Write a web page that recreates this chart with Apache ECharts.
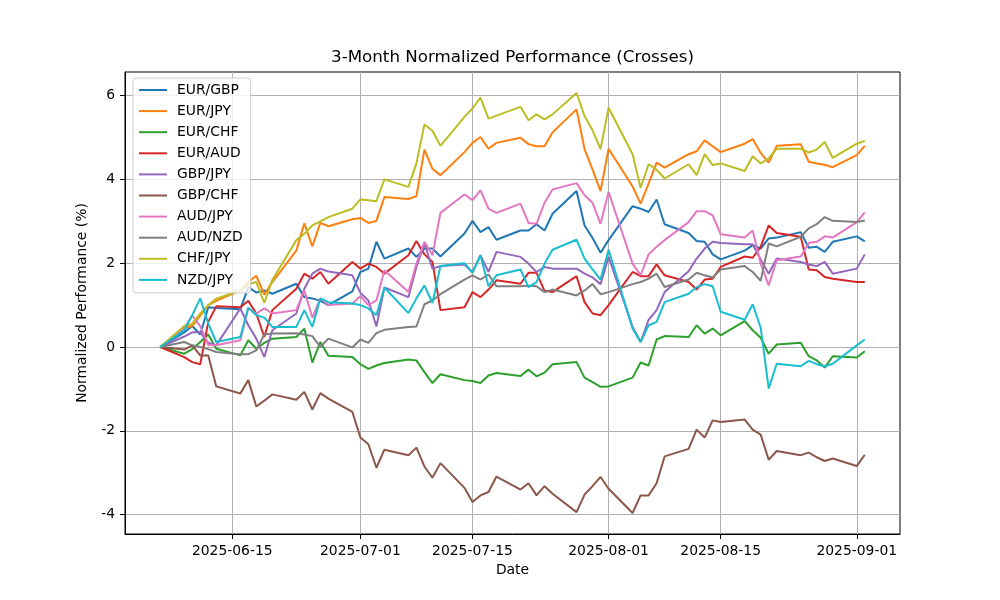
<!DOCTYPE html>
<html><head><meta charset="utf-8">
<script src="https://cdn.jsdelivr.net/npm/echarts@6/dist/echarts.min.js"></script>
<style>html,body{margin:0;padding:0;background:#fff}#c{width:1000px;height:600px}</style>
</head><body><div id="c"></div>
<script>
const dates = ['2025-06-06',
'2025-06-09','2025-06-10','2025-06-11','2025-06-12','2025-06-13',
'2025-06-16','2025-06-17','2025-06-18','2025-06-19','2025-06-20',
'2025-06-23','2025-06-24','2025-06-25','2025-06-26','2025-06-27',
'2025-06-30','2025-07-01','2025-07-02','2025-07-03','2025-07-04',
'2025-07-07','2025-07-08','2025-07-09','2025-07-10','2025-07-11',
'2025-07-14','2025-07-15','2025-07-16','2025-07-17','2025-07-18',
'2025-07-21','2025-07-22','2025-07-23','2025-07-24','2025-07-25',
'2025-07-28','2025-07-29','2025-07-30','2025-07-31','2025-08-01',
'2025-08-04','2025-08-05','2025-08-06','2025-08-07','2025-08-08',
'2025-08-11','2025-08-12','2025-08-13','2025-08-14','2025-08-15',
'2025-08-18','2025-08-19','2025-08-20','2025-08-21','2025-08-22',
'2025-08-25','2025-08-26','2025-08-27','2025-08-28','2025-08-29',
'2025-09-01','2025-09-02'];

const eurGbp = [0, 0.35,0.5,0.3,0.95,0.93, 0.9,1.43,1.3,1.35,1.27, 1.51,1.19,1.16,1.1,1.0, 1.33,1.79,1.87,2.51,2.11, 2.35,2.15,2.35,2.35,2.16, 2.71,3.01,2.74,2.86,2.56, 2.78,2.78,2.93,2.78,3.18, 3.72,2.9,2.6,2.25,2.55, 3.36,3.3,3.22,3.52,2.93, 2.72,2.53,2.51,2.21,2.09, 2.3,2.43,2.35,2.59,2.61, 2.74,2.37,2.39,2.27,2.51, 2.64,2.52];
const eurJpy = [0, 0.45,0.5,0.75,1.0,1.1, 1.35,1.55,1.7,1.25,1.55, 2.3,2.95,2.4,2.96,2.88, 3.05,3.08,2.96,3.01,3.58, 3.53,3.6,4.71,4.25,4.1, 4.65,4.87,5.01,4.73,4.87, 4.99,4.84,4.79,4.79,5.12, 5.67,4.72,4.23,3.72,4.73, 3.83,3.42,3.9,4.4,4.28, 4.6,4.67,4.93,4.79,4.65, 4.85,4.96,4.63,4.4,4.8, 4.84,4.42,4.38,4.35,4.29, 4.58,4.8];
const eurChf = [0, -0.16,-0.05,0.12,0.3,-0.04, -0.2,0.16,-0.04,0.1,0.2, 0.24,0.44,-0.37,0.12,-0.21, -0.24,-0.41,-0.52,-0.44,-0.38, -0.3,-0.32,-0.6,-0.86,-0.65, -0.79,-0.81,-0.86,-0.68,-0.62, -0.69,-0.54,-0.7,-0.61,-0.41, -0.36,-0.73,-0.84,-0.95,-0.94, -0.73,-0.37,-0.44,0.18,0.26, 0.24,0.52,0.32,0.44,0.28, 0.62,0.4,0.22,-0.16,0.06, 0.1,-0.22,-0.32,-0.49,-0.22, -0.25,-0.1];
const eurAud = [0, -0.24,-0.36,-0.41,0.6,0.97, 0.95,1.1,0.8,0.24,0.88, 1.39,1.75,1.63,1.79,1.51, 2.03,1.87,1.99,1.91,1.75, 2.19,2.53,2.21,2.03,0.88, 0.95,1.31,1.19,1.37,1.59, 1.51,1.77,1.77,1.34,1.31, 1.69,1.07,0.8,0.76,1.0, 1.79,1.69,1.69,1.97,1.71, 1.55,1.37,1.61,1.63,1.91, 2.16,2.13,2.39,2.9,2.72, 2.63,1.85,1.83,1.67,1.63, 1.55,1.55];
const gbpJpy = [0, 0.25,0.35,0.35,0.1,0.04, 0.92,0.52,0.2,-0.24,0.4, 0.8,1.39,1.75,1.87,1.8, 1.71,1.29,1.11,0.49,1.42, 1.19,1.91,2.47,1.87,1.93, 1.97,1.79,2.19,1.79,2.27, 2.15,1.99,1.79,1.91,1.87, 1.87,1.75,1.66,1.5,2.15, 0.48,0.12,0.65,0.88,1.31, 1.81,2.11,2.35,2.51,2.48, 2.45,2.45,2.09,1.75,2.11, 2.03,1.97,1.93,2.03,1.75, 1.87,2.21];
const gbpChf = [0, -0.06,0.04,-0.2,-0.2,-0.94, -1.11,-0.79,-1.42,-1.28,-1.13, -1.26,-1.07,-1.49,-1.1,-1.23, -1.55,-2.16,-2.32,-2.88,-2.45, -2.58,-2.4,-2.85,-3.12,-2.77, -3.36,-3.7,-3.54,-3.46,-3.09, -3.4,-3.25,-3.54,-3.32,-3.5, -3.94,-3.52,-3.32,-3.1,-3.38, -3.96,-3.54,-3.54,-3.25,-2.61, -2.43,-1.97,-2.16,-1.75,-1.79, -1.73,-1.97,-2.09,-2.69,-2.48, -2.58,-2.52,-2.63,-2.72,-2.66, -2.84,-2.57];
const audJpy = [0, 0.45,0.75,0.5,0.05,0.04, 0.16,0.92,0.8,0.92,0.8, 0.88,1.35,0.7,1.16,1.0, 1.04,1.21,1.0,1.11,1.83, 1.31,1.99,2.51,2.19,3.2, 3.64,3.5,3.74,3.3,3.2, 3.42,2.96,2.94,3.44,3.76, 3.91,3.62,3.44,2.94,3.7, 1.99,1.71,2.21,2.39,2.55, 2.98,3.24,3.24,3.14,2.69, 2.61,2.78,1.99,1.47,2.07, 2.16,2.48,2.51,2.64,2.61, 2.98,3.21];
const audNzd = [0, 0.12,0.04,0.0,-0.05,-0.12, -0.17,-0.17,-0.08,0.3,0.32, 0.33,0.3,0.26,0.0,0.2, -0.01,0.18,0.1,0.33,0.41, 0.48,0.49,1.02,1.11,1.26, 1.61,1.71,1.61,1.73,1.45, 1.45,1.46,1.45,1.31,1.37, 1.23,1.35,1.5,1.26,1.31, 1.5,1.55,1.63,1.75,1.43, 1.61,1.77,1.71,1.66,1.85, 1.93,1.79,1.58,2.47,2.4, 2.63,2.83,2.93,3.1,3.01, 2.98,3.02];
const chfJpy = [0, 0.5,0.55,0.8,1.0,1.15, 1.35,1.5,1.55,1.05,1.6, 2.55,2.7,2.9,3.0,3.1, 3.3,3.52,3.5,3.48,4.0, 3.82,4.38,5.31,5.16,4.8, 5.49,5.69,5.95,5.45,5.52, 5.73,5.41,5.55,5.43,5.55, 6.06,5.51,5.17,4.72,5.71, 4.6,3.8,4.36,4.23,4.02, 4.36,4.1,4.6,4.34,4.38, 4.2,4.55,4.38,4.5,4.73, 4.73,4.64,4.71,4.89,4.51, 4.85,4.92];
const nzdJpy = [0, 0.4,0.76,1.16,0.56,0.12, 0.24,0.94,0.76,0.7,0.48, 0.48,0.88,0.48,1.16,1.07, 1.04,1.0,0.92,0.76,1.42, 0.81,1.16,1.47,1.05,1.93, 2.0,1.77,2.19,1.45,1.71, 1.85,1.43,1.55,1.99,2.32, 2.56,2.11,1.85,1.61,2.32, 0.44,0.12,0.52,0.6,1.07, 1.27,1.43,1.5,1.45,0.84, 0.65,1.02,0.46,-0.99,-0.4, -0.46,-0.33,-0.41,-0.46,-0.4, 0.04,0.18];

const seriesNames = ['EUR/GBP','EUR/JPY','EUR/CHF','EUR/AUD','GBP/JPY','GBP/CHF','AUD/JPY','AUD/NZD','CHF/JPY','NZD/JPY'];
const seriesValues = [eurGbp, eurJpy, eurChf, eurAud, gbpJpy, gbpChf, audJpy, audNzd, chfJpy, nzdJpy];
const colors = ['#1f77b4','#ff7f0e','#2ca02c','#d62728','#9467bd','#8c564b','#e377c2','#7f7f7f','#bcbd22','#17becf'];
const xTickLabels = ['2025-06-15','2025-07-01','2025-07-15','2025-08-01','2025-08-15','2025-09-01'];
const yTickLabels = [-4, -2, 0, 2, 4, 6];

const ts = s => new Date(s + 'T00:00:00').getTime();
const t0 = ts(dates[0]), t1 = ts(dates[dates.length - 1]);
const xPad = (t1 - t0) * 0.05;
let vmin = Infinity, vmax = -Infinity;
seriesValues.forEach(a => a.forEach(v => { vmin = Math.min(vmin, v); vmax = Math.max(vmax, v); }));
const yPad = (vmax - vmin) * 0.05;
const xTicks = xTickLabels.map(ts);
const pad2 = n => (n < 10 ? '0' : '') + n;
const fmtDate = v => { const d = new Date(v); return d.getFullYear() + '-' + pad2(d.getMonth() + 1) + '-' + pad2(d.getDate()); };

const FONT = 'DejaVu Sans';
const chart = echarts.init(document.getElementById('c'), null, {renderer: 'canvas'});
chart.setOption({
  animation: false,
  backgroundColor: '#ffffff',
  color: colors,
  textStyle: {fontFamily: FONT},
  grid: {left: 125, right: 100, top: 72, bottom: 66, show: true, borderColor: '#000', borderWidth: 1, backgroundColor: 'transparent'},
  graphic: [{
    type: 'text', x: 512.5, y: 58, silent: true,
    style: {text: '3-Month Normalized Performance (Crosses)', font: '16.7px "DejaVu Sans"', fill: '#000', align: 'center', verticalAlign: 'middle'}
  }],
  legend: {
    orient: 'vertical', left: 133, top: 78,
    padding: [4, 8, 5, 6], itemGap: 5.1, itemWidth: 28, itemHeight: 2, icon: 'rect',
    backgroundColor: 'rgba(255,255,255,0.8)', borderColor: '#cccccc', borderWidth: 1, borderRadius: 3,
    textStyle: {fontFamily: FONT, fontSize: 13.9, color: '#000', lineHeight: 16, padding: [0, 0, 0, 5]},
    data: seriesNames
  },
  xAxis: {
    type: 'value', min: t0 - xPad, max: t1 + xPad,
    name: 'Date', nameLocation: 'middle', nameGap: 29,
    nameTextStyle: {fontFamily: FONT, fontSize: 13.9, color: '#000'},
    axisLine: {show: true, onZero: false, lineStyle: {color: '#000', width: 1}},
    axisTick: {show: true, length: 5, customValues: xTicks, lineStyle: {color: '#000', width: 1}},
    axisLabel: {customValues: xTicks, formatter: fmtDate, fontFamily: FONT, fontSize: 13.9, color: '#000', margin: 10, showMinLabel: true, showMaxLabel: true},
    splitLine: {show: true, lineStyle: {color: '#b0b0b0', width: 1}}
  },
  yAxis: {
    type: 'value', min: vmin - yPad, max: vmax + yPad,
    name: 'Normalized Performance (%)', nameLocation: 'middle', nameGap: 36, nameRotate: 90,
    nameTextStyle: {fontFamily: FONT, fontSize: 13.9, color: '#000'},
    axisLine: {show: true, onZero: false, lineStyle: {color: '#000', width: 1}},
    axisTick: {show: true, length: 5, customValues: yTickLabels, lineStyle: {color: '#000', width: 1}},
    axisLabel: {customValues: yTickLabels, fontFamily: FONT, fontSize: 13.9, color: '#000', margin: 10},
    splitLine: {show: true, lineStyle: {color: '#b0b0b0', width: 1}}
  },
  series: seriesNames.map((name, k) => ({
    name, type: 'line', showSymbol: false, symbol: 'none',
    lineStyle: {width: 2, color: colors[k]}, itemStyle: {color: colors[k]},
    emphasis: {disabled: true}, silent: true,
    data: dates.map((d, i) => [ts(d), seriesValues[k][i]])
  }))
});
</script>
</body></html>
